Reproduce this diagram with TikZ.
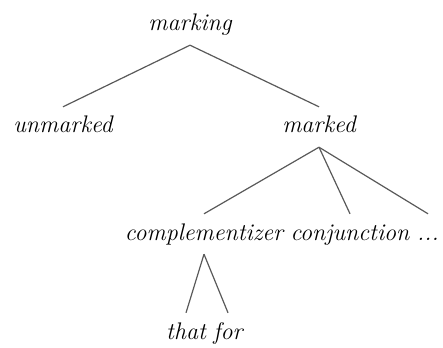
\documentclass[tikz,border=0pt]{standalone}
\usepackage{tikz}

\tikzset{
    word/.style={anchor=base,inner sep=9pt,text height=17pt,text depth=5pt,
                 font=\fontsize{24}{28}\selectfont\itshape},
    branch/.style={black!65,line width=1.2pt},
}

\begin{document}
\begin{tikzpicture}[x=1pt,y=-1pt]
\useasboundingbox (0,0) rectangle (443,347);

%-------------------------------------------- Root
\node[word] (marking) at (190,31) {marking};

%-------------------------------------------- First level
\node[word] (unmarked) at (63,133) {unmarked};
\node[word] (marked)   at (319,133) {marked};

\draw[branch](marking.south)--(unmarked.north);
\draw[branch](marking.south)--(marked.north);

%-------------------------------------------- Second level
\node[word] (comp) at (204,240) {complementizer};
\node[word] (conj) at (350,240) {conjunction};
\node[word] (dots) at (428,240) {...};

\draw[branch](marked.south)--(comp.north);
\draw[branch](marked.south)--(conj.north);
\draw[branch](marked.south)--(dots.north);

%-------------------------------------------- Third level
\node[word] (that) at (186,339) {that};
\node[word] (for)  at (228,339) {for};

\draw[branch](comp.south)--(that.north);
\draw[branch](comp.south)--(for.north);

\end{tikzpicture}
\end{document}
